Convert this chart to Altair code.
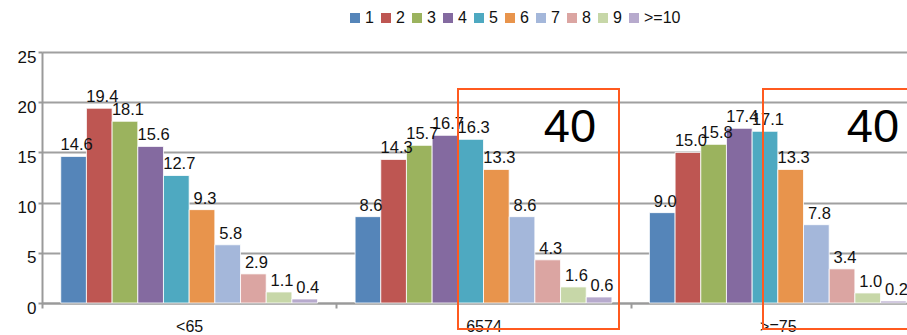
import altair as alt
import pandas as pd

# Share (%) of patients by number of items, per age band
age_groups = ["<65", "6574", ">=75"]
series = ["1", "2", "3", "4", "5", "6", "7", "8", "9", ">=10"]
values_lt65 = [14.6, 19.4, 18.1, 15.6, 12.7, 9.3, 5.8, 2.9, 1.1, 0.4]
values_6574 = [8.6, 14.3, 15.7, 16.7, 16.3, 13.3, 8.6, 4.3, 1.6, 0.6]
values_ge75 = [9.0, 15.0, 15.8, 17.4, 17.1, 13.3, 7.8, 3.4, 1.0, 0.2]
colors = ["#5585B9", "#BE5652", "#9BB35E", "#846AA0", "#4EA9C1",
          "#E8944C", "#A4B7DA", "#DBA5A2", "#C7D7A8", "#B7AACD"]

rows = []
for grp, vals in zip(age_groups, [values_lt65, values_6574, values_ge75]):
    for s, v in zip(series, vals):
        rows.append({"group": grp, "series": s, "value": v})
df = pd.DataFrame(rows)

FONT = "Liberation Sans"
W, H = 865, 251

x_enc = alt.X("group:N", sort=age_groups, title=None,
              scale=alt.Scale(range=[0, 883], paddingInner=0, paddingOuter=0),
              axis=alt.Axis(labelAngle=0, tickBand="extent", tickSize=5,
                            labelPadding=10, labelFontSize=16, labelFont=FONT,
                            labelColor="#111", domainColor="#9a9a9a",
                            domainWidth=2, tickColor="#9a9a9a", tickWidth=2,
                            grid=False))
xoff_enc = alt.XOffset("series:N", sort=series,
                       scale=alt.Scale(paddingOuter=0.73, paddingInner=0))
y_enc = alt.Y("value:Q", title=None,
              scale=alt.Scale(domain=[0, 25], nice=False),
              axis=alt.Axis(values=[0, 5, 10, 15, 20, 25], tickSize=4,
                            labelPadding=2, labelFontSize=17, labelFont=FONT,
                            labelColor="#111", labelOffset=5,
                            domainColor="#9a9a9a", domainWidth=2,
                            tickColor="#9a9a9a", tickWidth=2,
                            gridColor="#a0a0a0", gridWidth=2))

base = alt.Chart(df).encode(x=x_enc, xOffset=xoff_enc, y=y_enc)

bars = base.mark_bar(stroke="white", strokeWidth=0.8).encode(
    color=alt.Color("series:N", sort=series,
                    scale=alt.Scale(domain=series, range=colors),
                    legend=alt.Legend(title=None, orient="none",
                                      direction="horizontal",
                                      legendX=305, legendY=-42,
                                      symbolType="square", symbolSize=100,
                                      symbolStrokeWidth=0,
                                      labelFontSize=16, labelFont=FONT,
                                      labelColor="#111", labelOffset=2,
                                      columnPadding=4, columns=10))
)

labels = base.mark_text(baseline="alphabetic", dy=-6, dx=3, fontSize=16.5,
                        font=FONT, color="#111").encode(
    text=alt.Text("value:Q", format=".1f")
)

# Highlight frames with their annotation
one = alt.Data(values=[{}])
box1 = alt.Chart(one).mark_rect(fill=None, stroke="#FF5A1F", strokeWidth=2).encode(
    x=alt.value(416), x2=alt.value(577), y=alt.value(37), y2=alt.value(277))
box2 = alt.Chart(one).mark_rect(fill=None, stroke="#FF5A1F", strokeWidth=2).encode(
    x=alt.value(721), x2=alt.value(900), y=alt.value(37), y2=alt.value(277))
note1 = alt.Chart(one).mark_text(text="40", fontSize=47, font=FONT,
                                 color="#000", baseline="alphabetic").encode(
    x=alt.value(528), y=alt.value(90))
note2 = alt.Chart(one).mark_text(text="40", fontSize=47, font=FONT,
                                 color="#000", baseline="alphabetic").encode(
    x=alt.value(831), y=alt.value(90))

chart = alt.layer(bars, labels, box1, box2, note1, note2).properties(
    width=W, height=H,
    autosize=alt.AutoSizeParams(type="none"),
    padding={"left": 42, "top": 52, "right": 0, "bottom": 32},
).configure_view(stroke=None).configure(background="white")

chart.save("out.html", embed_options={"renderer": "svg", "actions": False})
